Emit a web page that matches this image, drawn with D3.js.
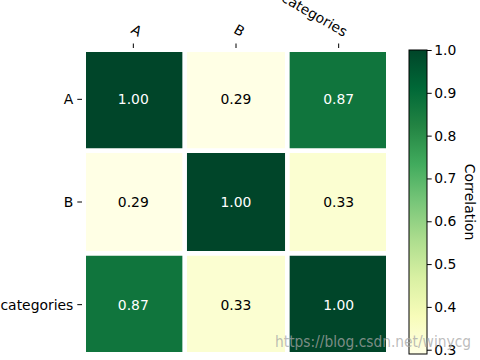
<!DOCTYPE html>
<html><head><meta charset="utf-8">
<script src="https://cdn.jsdelivr.net/npm/d3@7"></script>
<style>body{margin:0;background:#fff}svg{display:block}text{font-family:"DejaVu Sans",sans-serif}</style>
</head><body><svg id="c" width="480" height="360"></svg>
<script>
const categories = ["A", "B", "categories"];
const rowA = [1.00, 0.29, 0.87];
const rowB = [0.29, 1.00, 0.33];
const rowC = [0.87, 0.33, 1.00];
const matrix = [rowA, rowB, rowC];
const cbarTicks = [0.3, 0.4, 0.5, 0.6, 0.7, 0.8, 0.9, 1.0];
const cbarLabel = "Correlation";
const ylgn = ["#ffffe5","#f7fcb9","#d9f0a3","#addd8e","#78c679","#41ab5d","#238443","#006837","#004529"];

const FS = "13.9px";
const svg = d3.select("#c");
const vmin = d3.min(matrix.flat()), vmax = d3.max(matrix.flat());
const tScale = d3.scaleLinear().domain([vmin, vmax]).range([0, 1]).clamp(true);
const cmap = d3.scaleLinear().domain(ylgn.map((_, i) => i / (ylgn.length - 1))).range(ylgn).interpolate(d3.interpolateRgb);
const color = v => cmap(tScale(v));

const X0 = 82, X1 = 390, Y0 = 48, Y1 = 356;
const x = d3.scaleBand().domain(categories).range([X0, X1]);
const y = d3.scaleBand().domain(categories).range([Y0, Y1]);

const cells = [];
matrix.forEach((row, i) => row.forEach((v, j) => cells.push({r: categories[i], c: categories[j], v})));

const g = svg.append("g");
g.selectAll("rect.cell").data(cells).join("rect")
  .attr("x", d => x(d.c)).attr("y", d => y(d.r))
  .attr("width", x.bandwidth()).attr("height", y.bandwidth())
  .attr("fill", d => color(d.v));

const bounds = d3.range(categories.length + 1);
const bx = i => X0 + i * x.step(), by = i => Y0 + i * y.step();
bounds.forEach(i => {
  const w = (i === 0 || i === categories.length) ? 8 : 4.6;
  g.append("line").attr("x1", bx(i)).attr("x2", bx(i)).attr("y1", Y0 - 4).attr("y2", Y1 + 4)
    .attr("stroke", "#fff").attr("stroke-width", w);
  g.append("line").attr("y1", by(i)).attr("y2", by(i)).attr("x1", X0 - 4).attr("x2", X1 + 4)
    .attr("stroke", "#fff").attr("stroke-width", w);
});

const thr = (vmin + vmax) / 2;
g.selectAll("text.ann").data(cells).join("text")
  .attr("x", d => x(d.c) + x.bandwidth() / 2).attr("y", d => y(d.r) + y.bandwidth() / 2)
  .attr("text-anchor", "middle").attr("dominant-baseline", "central")
  .attr("font-size", FS)
  .attr("fill", d => d.v > thr ? "#fff" : "#000")
  .text(d => d3.format(".2f")(d.v));

const xt = svg.append("g");
categories.forEach(c => {
  const cx = x(c) + x.bandwidth() / 2;
  xt.append("line").attr("x1", cx).attr("x2", cx).attr("y1", Y0 - 4.5).attr("y2", Y0).attr("stroke", "#000").attr("stroke-width", 1);
  xt.append("text").attr("transform", `translate(${cx + 5},${37}) rotate(30)`)
    .attr("text-anchor", "end").attr("font-size", FS).attr("fill", "#000").text(c);
});
const yt = svg.append("g");
categories.forEach(c => {
  const cy = y(c) + y.bandwidth() / 2;
  yt.append("line").attr("x1", X0 - 4.7).attr("x2", X0).attr("y1", cy).attr("y2", cy).attr("stroke", "#000").attr("stroke-width", 1);
  yt.append("text").attr("x", X0 - 8.7).attr("y", cy).attr("text-anchor", "end").attr("dominant-baseline", "central")
    .attr("font-size", FS).attr("fill", "#000").text(c);
});

const CX0 = 409, CX1 = 427, CY0 = 50, CY1 = 354;
const cy = d3.scaleLinear().domain([vmin, vmax]).range([CY1, CY0]);
const defs = svg.append("defs");
const grad = defs.append("linearGradient").attr("id", "cg").attr("x1", 0).attr("y1", 1).attr("x2", 0).attr("y2", 0);
ylgn.forEach((col, i) => grad.append("stop").attr("offset", i / (ylgn.length - 1)).attr("stop-color", col));
svg.append("rect").attr("x", CX0).attr("y", cy(vmax)).attr("width", CX1 - CX0).attr("height", cy(vmin) - cy(vmax))
  .attr("fill", "url(#cg)").attr("stroke", "#000").attr("stroke-width", 1);
const cax = svg.append("g").attr("transform", `translate(${CX1},0)`)
  .call(d3.axisRight(cy).tickValues(cbarTicks).tickFormat(d3.format(".1f")).tickSize(4.7).tickPadding(2.5));
cax.select(".domain").remove();
cax.selectAll("text").attr("font-size", FS).attr("font-family", "DejaVu Sans").attr("fill", "#000");
cax.selectAll("line").attr("stroke-width", 1);
svg.append("text").attr("transform", `translate(470,${(CY0 + CY1) / 2}) rotate(90)`)
  .attr("text-anchor", "middle").attr("dominant-baseline", "central").attr("font-size", FS).attr("fill", "#000").text(cbarLabel);

svg.append("text").attr("x", 275).attr("y", 347).attr("font-family", "Liberation Sans, Arial, sans-serif")
  .attr("font-size", "15px").attr("textLength", 196).attr("lengthAdjust", "spacingAndGlyphs")
  .attr("fill", "rgb(166,166,166)").attr("fill-opacity", 0.75).text("https://blog.csdn.net/winycg");
</script></body></html>
